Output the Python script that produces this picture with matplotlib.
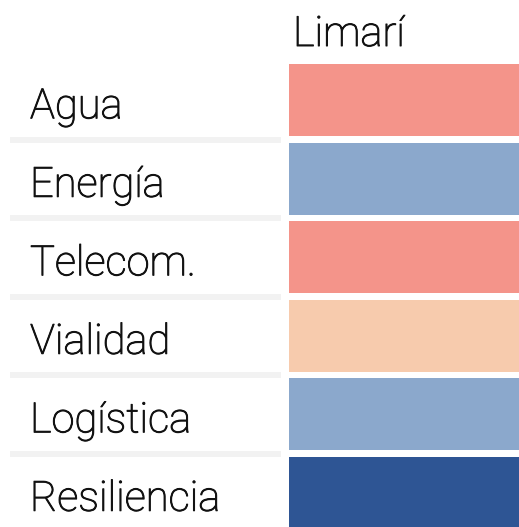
import matplotlib
matplotlib.use("Agg")
import matplotlib.pyplot as plt
import matplotlib.transforms as mtransforms
import matplotlib.patheffects as pe
from matplotlib.colors import ListedColormap
import numpy as np

# data
rows = ["Agua", "Energía", "Telecom.", "Vialidad", "Logística", "Resiliencia"]
column = "Limarí"
scores = [2, -1, 2, 1, -1, -2]

palette = ListedColormap(["#2e5594", "#8ba8cc", "#f7f7f7", "#f7cbad", "#f4948a"])

plt.rcParams["font.family"] = ["Roboto", "DejaVu Sans"]
thick = [pe.withStroke(linewidth=0.7, foreground="#111111")]

W, H = 519, 527
fig = plt.figure(figsize=(W / 100, H / 100), dpi=100)
ax = fig.add_axes([289 / W, -5 / H, 230 / W, 471 / H])

y = np.arange(len(rows))
colors = palette((np.array(scores) + 2.5) / 5.0)
ax.barh(y, 1.0, left=0, height=0.917, color=colors)
ax.set_xlim(0, 1)
ax.set_ylim(len(rows) - 0.5, -0.5)
ax.axis("off")

trans = mtransforms.blended_transform_factory(fig.transFigure, ax.transData)
for i, name in enumerate(rows):
    ax.text(30 / W, i + 0.23, name, transform=trans, fontsize=30,
            fontweight="light", va="baseline", ha="left", color="#111111",
            path_effects=thick)
for i in range(len(rows) - 1):
    ax.plot([10 / W, 281 / W], [i + 0.5, i + 0.5], transform=trans,
            color="#f2f2f2", lw=4.3, solid_capstyle="butt", clip_on=False)

fig.text(293 / W, 1 - 46 / H, column, fontsize=30, fontweight="light",
         ha="left", va="baseline", color="#111111", path_effects=thick)

fig.savefig("out.png", dpi=100)
